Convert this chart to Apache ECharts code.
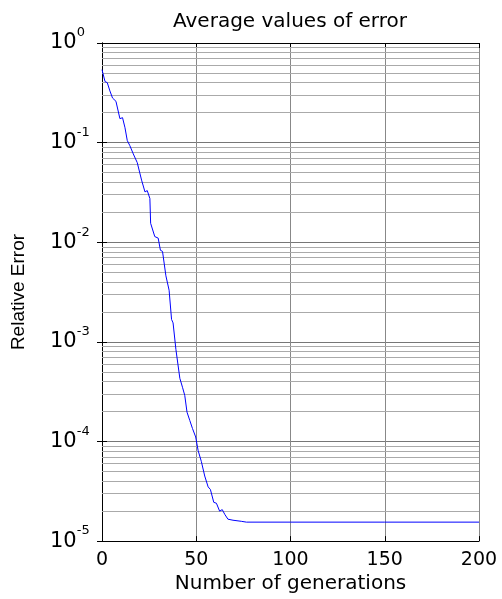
<!DOCTYPE html>
<html>
<head>
<meta charset="utf-8">
<script src="https://cdn.jsdelivr.net/npm/echarts@6/dist/echarts.min.js"></script>
<style>
  html, body { margin: 0; padding: 0; background: #fff; }
  #chart { width: 502px; height: 599px; }
</style>
</head>
<body>
<div id="chart"></div>
<script>
const generations = [
  0, 1.6, 2.8, 4.2, 5.6, 7.4, 9.5, 10.9, 12.2, 13.4, 14.8, 16.6, 18.7, 21, 22.8, 24,
  25.4, 25.8, 28, 29.8, 31, 32.1, 33.9, 35.6, 36.9, 37.7, 39.2, 40, 41.3, 42.7, 43.9,
  45.1, 46.6, 48, 49.7, 51, 52.7, 54.5, 56.3, 57.5, 59.3, 60.7, 62.4, 63.8, 65.1,
  66.8, 69.5, 73.9, 76.6, 100, 150, 200
];
const relativeError = [
  0.54, 0.41, 0.40, 0.33, 0.28, 0.26, 0.174, 0.178, 0.141, 0.105, 0.093, 0.077, 0.063,
  0.042, 0.032, 0.033, 0.0275, 0.0155, 0.0114, 0.011, 0.0083, 0.0081, 0.0046, 0.0033,
  0.00168, 0.00155, 0.00084, 0.00084, 0.00043, 0.00035, 0.00029, 0.000197, 0.000162,
  0.000135, 0.000111, 8.1e-5, 6.3e-5, 4.5e-5, 3.5e-5, 3.3e-5, 2.45e-5, 2.4e-5, 2.0e-5,
  2.07e-5, 1.86e-5, 1.66e-5, 1.62e-5, 1.58e-5, 1.55e-5, 1.55e-5, 1.55e-5, 1.55e-5
];
// minor grid lines of the log axis: 2..9 x each decade
const minorGridValues = [];
[1e-5, 1e-4, 1e-3, 1e-2, 1e-1].forEach(d => {
  [2, 3, 4, 5, 6, 7, 8, 9].forEach(m => minorGridValues.push(+(m * d).toPrecision(2)));
});

const chart = echarts.init(document.getElementById("chart"));
const font = "DejaVu Sans";

const option = {
  animation: false,
  title: {
    text: "Average values of error",
    left: 290,
    top: 12,
    padding: 0,
    textAlign: "center",
    textStyle: { fontFamily: font, fontSize: 20, fontWeight: "normal", color: "#000" }
  },
  grid: { left: 102, right: 23, top: 43, bottom: 54, containLabel: false },
  xAxis: [
    {
      type: "value",
      min: 0,
      max: 200,
      interval: 50,
      name: "Number of generations",
      nameLocation: "middle",
      nameGap: 23,
      nameTextStyle: { fontFamily: font, fontSize: 20, color: "#000" },
      axisLine: { lineStyle: { color: "#000", width: 1 } },
      axisTick: { inside: true, length: 5, lineStyle: { color: "#000" } },
      axisLabel: { margin: 9, fontFamily: font, fontSize: 19, color: "#000" },
      splitLine: { show: true, lineStyle: { color: "#888", width: 1 } }
    },
    {
      type: "value",
      position: "top",
      min: 0,
      max: 200,
      interval: 50,
      axisLine: { lineStyle: { color: "#000", width: 1 } },
      axisTick: { inside: true, length: 5, lineStyle: { color: "#000" } },
      axisLabel: { show: false },
      splitLine: { show: false }
    }
  ],
  yAxis: [
    {
      type: "log",
      logBase: 10,
      min: 1e-5,
      max: 1,
      name: "Relative Error",
      nameLocation: "middle",
      nameGap: 74,
      nameTextStyle: { fontFamily: "Liberation Sans", fontSize: 19, color: "#000" },
      axisLine: { lineStyle: { color: "#000", width: 1 } },
      axisTick: { inside: true, length: 5, lineStyle: { color: "#000" } },
      axisLabel: {
        margin: 52,
        align: "left",
        formatter: v => "{b|10}{s|" + Math.round(Math.log10(v)) + "}",
        rich: {
          b: { fontFamily: font, fontSize: 21, lineHeight: 21, color: "#000" },
          s: { fontFamily: font, fontSize: 13, lineHeight: 13, padding: [0, 0, 20, 0], color: "#000" }
        }
      },
      splitLine: { show: true, lineStyle: { color: "#777", width: 1 } }
    },
    {
      type: "log",
      logBase: 10,
      position: "right",
      min: 1e-5,
      max: 1,
      axisLine: { lineStyle: { color: "#000", width: 1 } },
      axisTick: { inside: true, length: 5, lineStyle: { color: "#000" } },
      axisLabel: { show: false },
      splitLine: { show: false }
    }
  ],
  series: [
    {
      type: "line",
      xAxisIndex: 0,
      yAxisIndex: 0,
      data: generations.map((g, i) => [g, relativeError[i]]),
      showSymbol: false,
      lineStyle: { color: "#0000ff", width: 1 },
      z: 5,
      markLine: {
        silent: true,
        symbol: "none",
        precision: 10,
        label: { show: false },
        lineStyle: { color: "#aaa", width: 1, type: "solid" },
        data: minorGridValues.map(v => ({ yAxis: v }))
      }
    }
  ]
};

chart.setOption(option);
</script>
</body>
</html>
